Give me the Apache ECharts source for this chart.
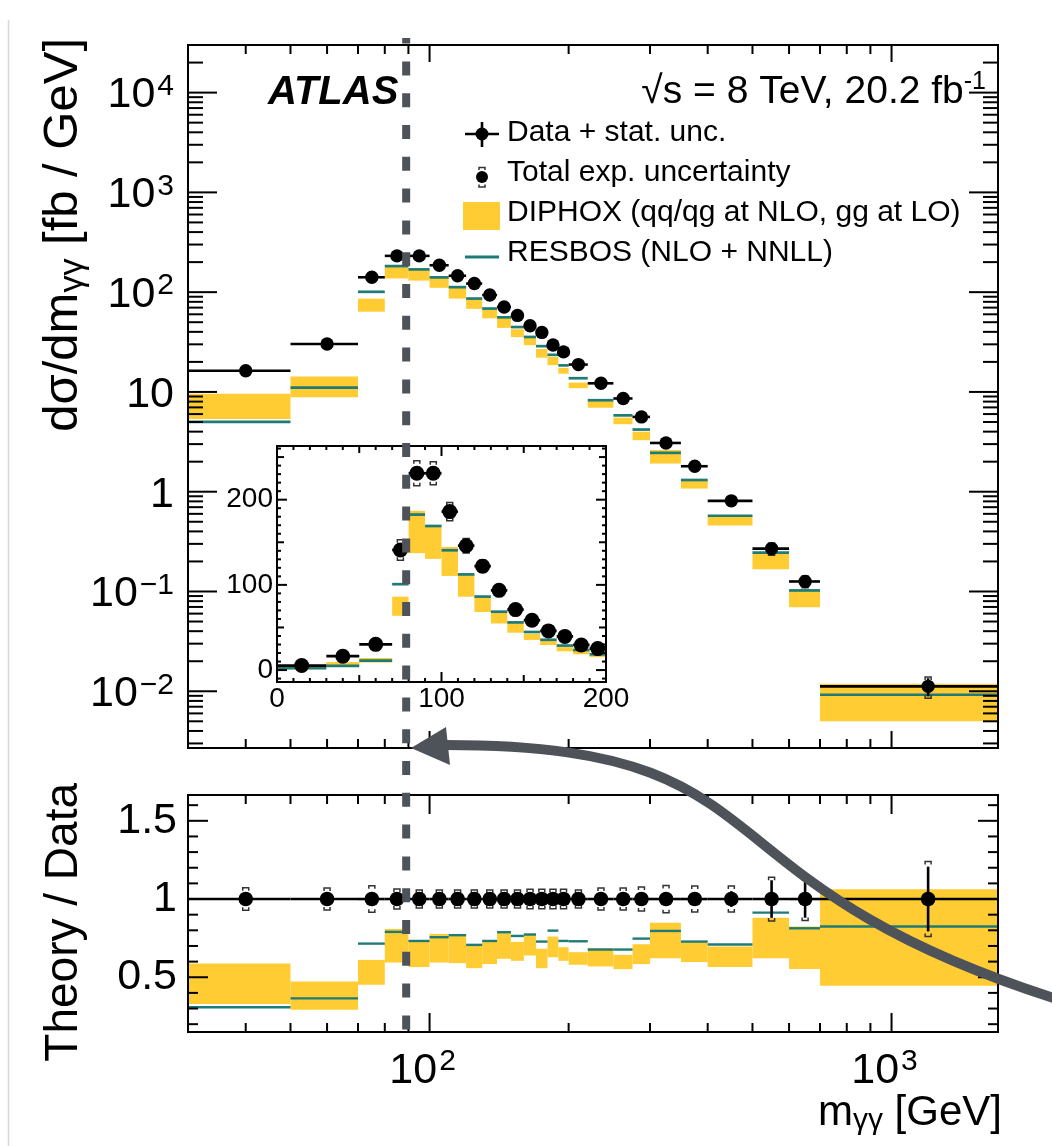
<!DOCTYPE html>
<html><head><meta charset="utf-8">
<script src="https://cdn.jsdelivr.net/npm/echarts@6/dist/echarts.min.js"></script>
<style>html,body{margin:0;padding:0;background:#fff}#c{width:1052px;height:1146px}</style>
</head><body><div id="c"></div>
<script>
// ---------------- data ----------------
const binLo = [0,30,50,70,80,90,100,110,120,130,140,150,160,170,180,190,200,220,250,275,300,350,400,500,600,700];
const binHi = [30,50,70,80,90,100,110,120,130,140,150,160,170,180,190,200,220,250,275,300,350,400,500,600,700,1700];
const dataVal = [5.3,16.3,30.2,141,231,231,186,146,122,93.6,71,58.5,46,39.5,29.5,25.2,18.8,12.2,8.6,5.62,3.08,1.80,0.81,0.269,0.126,0.0112];
const statRel = [0.03,0.03,0.03,0.04,0.02,0.02,0.02,0.02,0.02,0.02,0.02,0.02,0.02,0.02,0.02,0.02,0.02,0.03,0.03,0.03,0.04,0.04,0.05,0.12,0.12,0.207];
const totRel  = [0.08,0.072,0.07,0.085,0.064,0.058,0.058,0.058,0.058,0.058,0.058,0.058,0.062,0.062,0.062,0.062,0.058,0.07,0.07,0.077,0.087,0.083,0.083,0.14,0.137,0.24];
const diphoxLoRatio = [0.20,0.329,0.293,0.452,0.594,0.565,0.594,0.590,0.558,0.584,0.618,0.605,0.639,0.558,0.628,0.605,0.580,0.569,0.552,0.584,0.622,0.597,0.565,0.622,0.552,0.446];
const diphoxHiRatio = [0.75,0.588,0.473,0.611,0.809,0.732,0.777,0.775,0.707,0.732,0.792,0.726,0.779,0.682,0.760,0.692,0.660,0.686,0.643,0.711,0.849,0.724,0.696,0.881,0.824,1.062];
const resbosRatio   = [0.40,0.308,0.365,0.715,0.790,0.732,0.756,0.769,0.707,0.732,0.788,0.764,0.773,0.728,0.798,0.732,0.730,0.677,0.677,0.747,0.796,0.728,0.709,0.913,0.813,0.824];
const ratioYLabels = [0.5, 1, 1.5];
const insetXLabels = [0, 100, 200];
const insetYLabels = [0, 100, 200];
const legendNames = ['Data + stat. unc.', 'Total exp. uncertainty', 'DIPHOX (qq/qg at NLO, gg at LO)', 'RESBOS (NLO + NNLL)'];
const markerMass = 89; // dashed annotation line position [GeV]

// ---------------- styling ----------------
const FONT = "'Liberation Sans', Arial, Helvetica, sans-serif";
const YELLOW = '#ffcc33', TEAL = '#1f7b77', GREY = '#4e535a';
const RICH = {
  b: {fontSize: 43, fontFamily: FONT, color: '#000', lineHeight: 48},
  s: {fontSize: 30, fontFamily: FONT, color: '#000', lineHeight: 26, verticalAlign: 'top', padding: [0, 0, 0, 2]}
};

const idx = binLo.map((_, i) => i);
const mainIdx = idx.filter(i => binLo[i] >= 30);
const insetIdx = idx.filter(i => binHi[i] <= 200);
const ctr = i => (binLo[i] + binHi[i]) / 2;

const bandItems = (ids, sc) => ids.map(i => [binLo[i], binHi[i], sc(i) * diphoxLoRatio[i], sc(i) * diphoxHiRatio[i]]);
const resItems = (ids, sc) => ids.map(i => [binLo[i], binHi[i], sc(i) * resbosRatio[i]]);
const datItems = (ids, sc) => ids.map(i => { const v = sc(i); return [binLo[i], binHi[i], ctr(i), v, v*(1-statRel[i]), v*(1+statRel[i]), v*(1-totRel[i]), v*(1+totRel[i])]; });
const absV = i => dataVal[i], one = i => 1;

function bandRender(params, api) {
  const a = api.coord([api.value(0), api.value(3)]);
  const b = api.coord([api.value(1), api.value(2)]);
  return {type: 'rect', shape: {x: a[0], y: a[1], width: b[0] - a[0], height: b[1] - a[1]}, style: {fill: YELLOW}};
}
function lineRender(w) {
  return function (params, api) {
    const a = api.coord([api.value(0), api.value(2)]);
    const b = api.coord([api.value(1), api.value(2)]);
    return {type: 'line', shape: {x1: a[0], y1: a[1], x2: b[0], y2: b[1]}, style: {stroke: TEAL, lineWidth: w}};
  };
}
function dataRender(r, lw) {
  return function (params, api) {
    const c = api.value(2), v = api.value(3);
    const a = api.coord([api.value(0), v]), b = api.coord([api.value(1), v]), p = api.coord([c, v]);
    const s0 = api.coord([c, api.value(4)]), s1 = api.coord([c, api.value(5)]);
    const t0 = api.coord([c, api.value(6)]), t1 = api.coord([c, api.value(7)]);
    const x = p[0];
    return {type: 'group', children: [
      {type: 'line', shape: {x1: a[0], y1: a[1], x2: b[0], y2: b[1]}, style: {stroke: '#000', lineWidth: lw}},
      {type: 'line', shape: {x1: x, y1: s1[1], x2: x, y2: s0[1]}, style: {stroke: '#000', lineWidth: lw}},
      {type: 'polyline', shape: {points: [[x-3, t1[1]+3], [x-3, t1[1]], [x+3, t1[1]], [x+3, t1[1]+3]]}, style: {stroke: '#333', fill: null, lineWidth: 1.5}},
      {type: 'polyline', shape: {points: [[x-3, t0[1]-3], [x-3, t0[1]], [x+3, t0[1]], [x+3, t0[1]-3]]}, style: {stroke: '#333', fill: null, lineWidth: 1.5}},
      {type: 'circle', shape: {cx: x, cy: p[1], r: r}, style: {fill: '#000'}}
    ]};
  };
}
function tickSeries(xi, yi, xRef, yRef, items) {
  return {type: 'custom', xAxisIndex: xi, yAxisIndex: yi, z: 10, silent: true, clip: false, data: items,
    renderItem(params, api) {
      const cs = params.coordSys;
      const v = api.value(0), len = api.value(1), side = api.value(2);
      let s;
      if (side === 4) return {type: 'rect', shape: {x: cs.x, y: cs.y, width: cs.width, height: cs.height}, style: {stroke: '#000', fill: null, lineWidth: 2}};
      if (side === 0) { const x = api.coord([v, yRef])[0]; s = {x1: x, y1: cs.y + cs.height, x2: x, y2: cs.y + cs.height - len}; }
      else if (side === 1) { const x = api.coord([v, yRef])[0]; s = {x1: x, y1: cs.y, x2: x, y2: cs.y + len}; }
      else if (side === 2) { const y = api.coord([xRef, v])[1]; s = {x1: cs.x, y1: y, x2: cs.x + len, y2: y}; }
      else { const y = api.coord([xRef, v])[1]; s = {x1: cs.x + cs.width, y1: y, x2: cs.x + cs.width - len, y2: y}; }
      return {type: 'line', shape: s, style: {stroke: '#000', lineWidth: 2}};
    }};
}
function mk(vals, len, sides) { const o = []; sides.forEach(s => vals.forEach(v => o.push([v, len, s]))); return o; }

// tick positions
const logXMajor = [100, 1000];
const logXMinor = [40,50,60,70,80,90,200,300,400,500,600,700,800,900];
const mainYMajor = [0.01, 0.1, 1, 10, 100, 1000, 10000];
const mainYMinor = [];
for (let n = -3; n <= 4; n++) for (let k = 2; k <= 9; k++) { const v = k * Math.pow(10, n); if (v > 0.0027 && v < 30000) mainYMinor.push(v); }
const ratioYMinor = [];
for (let k = 2; k <= 16; k++) if (k % 5 !== 0) ratioYMinor.push(k / 10);
const insXMaj = [], insXMed = [], insXMin = [];
for (let v = 0; v <= 200; v += 10) (v % 100 === 0 ? insXMaj : v % 50 === 0 ? insXMed : insXMin).push(v);
const insYMaj = [], insYMed = [], insYMin = [];
for (let v = -10; v <= 260; v += 10) (v % 100 === 0 ? insYMaj : v % 50 === 0 ? insYMed : insYMin).push(v);

function powLabel(v) {
  const l = Math.log10(v), e = Math.round(l);
  if (Math.abs(l - e) > 1e-6) return '';
  if (e === 0) return '{b|1}';
  if (e === 1) return '{b|10}';
  return '{b|10}{s|' + (e < 0 ? '\u2212' + (-e) : e) + '}';
}
const noAx = {axisLine: {show: false}, axisTick: {show: false}, splitLine: {show: false}};

const chart = echarts.init(document.getElementById('c'), null, {renderer: 'canvas'});
const option = {
  animation: false,
  backgroundColor: '#fff',
  grid: [
    {left: 188, top: 45, width: 810, height: 703, show: false},
    {left: 188, top: 795, width: 810, height: 237, show: false},
    {left: 277, top: 446, width: 329, height: 236, show: true, backgroundColor: '#fff', borderWidth: 0, z: 3}
  ],
  xAxis: [
    Object.assign({gridIndex: 0, type: 'log', min: 30, max: 1700, axisLabel: {show: false}}, noAx),
    Object.assign({gridIndex: 1, type: 'log', min: 30, max: 1700,
      axisLabel: {interval: 0, margin: 15, formatter: powLabel, rich: RICH, padding: [0, 14, 0, 0]}}, noAx),
    Object.assign({gridIndex: 2, type: 'value', min: 0, max: 200,
      axisLabel: {customValues: insetXLabels, margin: 3, fontSize: 28, fontFamily: FONT, color: '#000'}}, noAx)
  ],
  yAxis: [
    Object.assign({gridIndex: 0, type: 'log', min: 0.0027, max: 30000,
      axisLabel: {interval: 0, margin: 14, formatter: powLabel, rich: RICH, padding: [6, 0, 0, 0]}}, noAx),
    Object.assign({gridIndex: 1, type: 'value', min: 0.15, max: 1.665,
      axisLabel: {customValues: ratioYLabels, margin: 11, formatter: v => '{b|' + v + '}', rich: RICH}}, noAx),
    Object.assign({gridIndex: 2, type: 'value', min: -14, max: 263,
      axisLabel: {customValues: insetYLabels, margin: 4, fontSize: 28, fontFamily: FONT, color: '#000'}}, noAx)
  ],
  series: [
    // main panel
    {type: 'custom', name: legendNames[2], xAxisIndex: 0, yAxisIndex: 0, z: 2, renderItem: bandRender, encode: {x: [0,1], y: [2,3]}, data: bandItems(mainIdx, absV)},
    {type: 'custom', name: legendNames[3], xAxisIndex: 0, yAxisIndex: 0, z: 3, renderItem: lineRender(2.7), encode: {x: [0,1], y: 2}, data: resItems(mainIdx, absV)},
    {type: 'custom', name: legendNames[0], xAxisIndex: 0, yAxisIndex: 0, z: 4, renderItem: dataRender(6.7, 2.6), encode: {x: [0,1], y: 3}, data: datItems(mainIdx, absV)},
    tickSeries(0, 0, 100, 1, [].concat(mk(logXMajor, 17, [0,1]), mk(logXMinor, 9, [0,1]), mk(mainYMajor, 29, [2,3]), mk(mainYMinor, 15, [2,3]), [[100, 0, 4]])),
    // ratio panel
    {type: 'custom', xAxisIndex: 1, yAxisIndex: 1, z: 2, renderItem: bandRender, encode: {x: [0,1], y: [2,3]}, data: bandItems(mainIdx, one)},
    {type: 'custom', xAxisIndex: 1, yAxisIndex: 1, z: 3, renderItem: lineRender(2.4), encode: {x: [0,1], y: 2}, data: resItems(mainIdx, one)},
    {type: 'custom', xAxisIndex: 1, yAxisIndex: 1, z: 4, renderItem: dataRender(7.3, 2.6), encode: {x: [0,1], y: 3}, data: datItems(mainIdx, one)},
    tickSeries(1, 1, 100, 1, [].concat(mk(logXMajor, 19, [0,1]), mk(logXMinor, 9, [0,1]), mk(ratioYLabels, 20, [2,3]), mk(ratioYMinor, 10, [2,3]), [[100, 0, 4]])),
    // inset panel
    {type: 'custom', xAxisIndex: 2, yAxisIndex: 2, z: 5, clip: true, renderItem: bandRender, encode: {x: [0,1], y: [2,3]}, data: bandItems(insetIdx, absV)},
    {type: 'custom', xAxisIndex: 2, yAxisIndex: 2, z: 6, clip: true, renderItem: lineRender(2.7), encode: {x: [0,1], y: 2}, data: resItems(insetIdx, absV)},
    {type: 'custom', xAxisIndex: 2, yAxisIndex: 2, z: 7, clip: true, renderItem: dataRender(7.5, 2.8), encode: {x: [0,1], y: 3}, data: datItems(insetIdx, absV)},
    Object.assign(tickSeries(2, 2, 100, 0, [].concat(mk(insXMaj, 10, [0,1]), mk(insXMed, 7, [0,1]), mk(insXMin, 4, [0,1]), mk(insYMaj, 10, [2,3]), mk(insYMed, 7, [2,3]), mk(insYMin, 4, [2,3]), [[100, 0, 4]])), {z: 12})
  ]
};
chart.setOption(option);

// ---------------- annotations, titles, legend ----------------
const xd = chart.convertToPixel({xAxisIndex: 0}, markerMass);
const T = (x, y, text, extra) => ({type: 'text', x: x, y: y, z: 50, silent: true,
  style: Object.assign({text: text, fill: '#000', fontFamily: FONT, fontSize: 30, verticalAlign: 'middle'}, extra || {})});
const titleRich = (fs, ss, shift) => ({
  t: {fontSize: fs, fontFamily: FONT, color: '#000', lineHeight: fs + 4},
  s: {fontSize: ss, fontFamily: FONT, color: '#000', lineHeight: shift, verticalAlign: 'bottom'}
});
const graphic = [
  {type: 'line', z: 40, silent: true, shape: {x1: 8.5, y1: 20, x2: 8.5, y2: 1146}, style: {stroke: '#d8d8d8', lineWidth: 1.5}},
  // titles
  T(63, 38, '{t|d\u03c3/dm}{s|\u03b3\u03b3}{t| [fb / GeV]}', {align: 'right', rich: titleRich(49, 34, 18)}),
  T(64, 783, 'Theory / Data', {align: 'right', fontSize: 46}),
  T(1002, 1113, '{t|m}{s|\u03b3\u03b3}{t| [GeV]}', {align: 'right', rich: titleRich(42, 30, 18)}),
  // labels
  T(268, 92.5, 'ATLAS', {fontSize: 40, fontWeight: 'bold', fontStyle: 'italic'}),
  T(986, 92, '{n|\u221as = 8 TeV, 20.2 fb}{p|-1}', {align: 'right', rich: {
    n: {fontSize: 39, fontFamily: FONT, color: '#000', lineHeight: 44},
    p: {fontSize: 25, fontFamily: FONT, color: '#000', lineHeight: 22, verticalAlign: 'top'}}}),
  // legend
  {type: 'line', z: 50, shape: {x1: 465, y1: 134, x2: 499, y2: 134}, style: {stroke: '#000', lineWidth: 2.6}},
  {type: 'line', z: 50, shape: {x1: 482, y1: 122, x2: 482, y2: 147}, style: {stroke: '#000', lineWidth: 2.6}},
  {type: 'circle', z: 51, shape: {cx: 482, cy: 134, r: 6.5}, style: {fill: '#000'}},
  {type: 'circle', z: 51, shape: {cx: 482, cy: 177, r: 6}, style: {fill: '#000'}},
  {type: 'polyline', z: 50, shape: {points: [[479, 170], [479, 167.5], [485, 167.5], [485, 170]]}, style: {stroke: '#333', fill: null, lineWidth: 1.5}},
  {type: 'polyline', z: 50, shape: {points: [[479, 184.5], [479, 187], [485, 187], [485, 184.5]]}, style: {stroke: '#333', fill: null, lineWidth: 1.5}},
  {type: 'rect', z: 50, shape: {x: 463, y: 202, width: 37, height: 28}, style: {fill: YELLOW}},
  {type: 'line', z: 50, shape: {x1: 465, y1: 257, x2: 499, y2: 257}, style: {stroke: TEAL, lineWidth: 3}},
  T(507, 133, legendNames[0]),
  T(507, 172.5, legendNames[1]),
  T(507, 212.5, legendNames[2]),
  T(507, 252.5, legendNames[3]),
  // dashed annotation line and arrow
  {type: 'line', z: 90, silent: true, shape: {x1: xd, y1: 38, x2: xd, y2: 1040}, style: {stroke: GREY, lineWidth: 8, lineDash: [14, 17.8], lineDashOffset: 8.4}},
  {type: 'bezierCurve', z: 90, silent: true, shape: {x1: 1060, y1: 1000, x2: 446, y2: 745, cpx1: 680, cpy1: 880, cpx2: 798, cpy2: 745}, style: {stroke: GREY, lineWidth: 10, fill: null}},
  {type: 'polygon', z: 91, silent: true, shape: {points: [[411, 748], [446, 727], [450, 765]]}, style: {fill: GREY}}
];
graphic[1].rotation = Math.PI / 2;
graphic[2].rotation = Math.PI / 2;
chart.setOption({graphic: graphic});
</script>
</body></html>
